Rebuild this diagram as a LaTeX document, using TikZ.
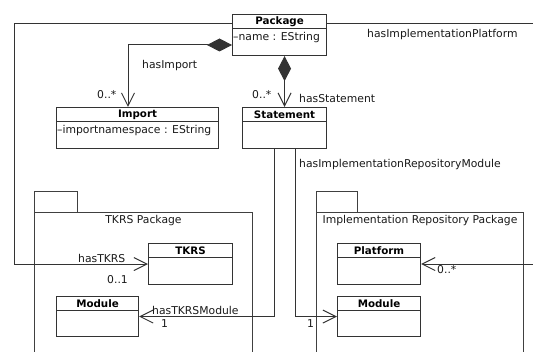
\documentclass[tikz,border=0pt]{standalone}
\usepackage{fontspec}
\setmainfont{DejaVu Sans}
\usetikzlibrary{arrows.meta}

\tikzset{
  txt/.style={font=\fontsize{10.8}{12}\selectfont, inner sep=0pt, text=black!90},
  ctitle/.style={font=\fontsize{10.3}{12}\selectfont\bfseries, inner sep=0pt, text=black},
  classbox/.style={draw=black!80, line width=1.1pt, fill=white, inner sep=0pt},
  classline/.style={draw=black!80, line width=1pt},
  pkgbox/.style={draw=black!75, line width=1pt, inner sep=0pt},
  conn/.style={draw=black!80, line width=1pt},
  navarrow/.style={-{Straight Barb[length=13pt,width=13pt,line width=1pt]}},
  compose/.style={{Diamond[length=25pt,width=13pt]}-{Straight Barb[length=13pt,width=13pt,line width=1pt]}}
}

% class box with a bold title compartment and an attribute compartment
\newcommand\umlclass[7]{%
  \node[classbox, minimum width=#4, minimum height=#5, anchor=north west] (#1) at (#2,#3) {};
  \draw[classline] ([yshift=-15pt]#1.north west) -- ([yshift=-15pt]#1.north east);
  \node[ctitle] at ([yshift=-8pt]#1.north) {#6};
  \node[txt, anchor=west] at ([xshift=1pt,yshift=-24pt]#1.north west) {#7};
}

\begin{document}
\begin{tikzpicture}[x=1pt, y=-1pt]
  \useasboundingbox (0,0) rectangle (533,352);
  \clip (0,0) rectangle (533,352);

  % package frames (tab + body running past the lower edge)
  \node[pkgbox, minimum width=43, minimum height=21, anchor=north west] (ttab) at (34,191) {};
  \node[pkgbox, minimum width=218, minimum height=170, anchor=north west] (tkrspkg) at (34,212) {};
  \node[txt, anchor=north] at ([yshift=-3pt]tkrspkg.north) {TKRS Package};

  \node[pkgbox, minimum width=41, minimum height=21, anchor=north west] (itab) at (316,191) {};
  \node[pkgbox, minimum width=207, minimum height=170, anchor=north west] (implpkg) at (316,212) {};
  \node[txt, anchor=north] at ([yshift=-3pt]implpkg.north) {Implementation Repository Package};

  % classes
  \umlclass{pkg}{232}{14}{94}{41}{Package}{–name : EString}
  \umlclass{imp}{56}{107}{162}{41}{Import}{–importnamespace : EString}
  \umlclass{stmt}{242}{107}{84}{41}{Statement}{}
  \umlclass{tkrs}{148}{243}{84}{41}{TKRS}{}
  \umlclass{tmod}{56}{296}{82}{40}{Module}{}
  \umlclass{plat}{337}{243}{83}{41}{Platform}{}
  \umlclass{imod}{337}{296}{83}{40}{Module}{}

  % associations
  \draw[conn, compose] (pkg.north west |- 0,45) -| (imp.north -| 128,0);
  \draw[conn, compose] (stmt.north |- pkg.south) -- (stmt.north);
  \draw[conn, navarrow] (pkg.north west |- 0,24) -- (14,24) |- (tkrs.west);
  \draw[conn, navarrow] (pkg.north east |- 0,24) -- (560,24) |- (plat.east);
  \draw[conn, navarrow] (stmt.south -| 274,0) |- (tmod.east);
  \draw[conn, navarrow] (stmt.south -| 295,0) |- (imod.west);

  % association labels and multiplicities
  \node[txt, anchor=west] (lImp) at (142,66) {hasImport};
  \node[txt, anchor=west] (mImp) at (97,95) {0..*};
  \node[txt, anchor=west] (lStm) at (299,98) {hasStatement};
  \node[txt, anchor=west] (mStm) at (252,95) {0..*};
  \node[txt, anchor=west] (lPlat) at (367,35) {hasImplementationPlatform};
  \node[txt, anchor=west] (lRep) at (299,165) {hasImplementationRepositoryModule};
  \node[txt, anchor=west] (lTk) at (78,258) {hasTKRS};
  \node[txt, anchor=west] (mTk) at (107,280) {0..1};
  \node[txt, anchor=west] (lTm) at (152,310) {hasTKRSModule};
  \node[txt, anchor=west] (mTm) at (161,324) {1};
  \node[txt, anchor=west] (mIm) at (307,324) {1};
  \node[txt, anchor=west] (mPl) at (437,270) {0..*};
\end{tikzpicture}
\end{document}
